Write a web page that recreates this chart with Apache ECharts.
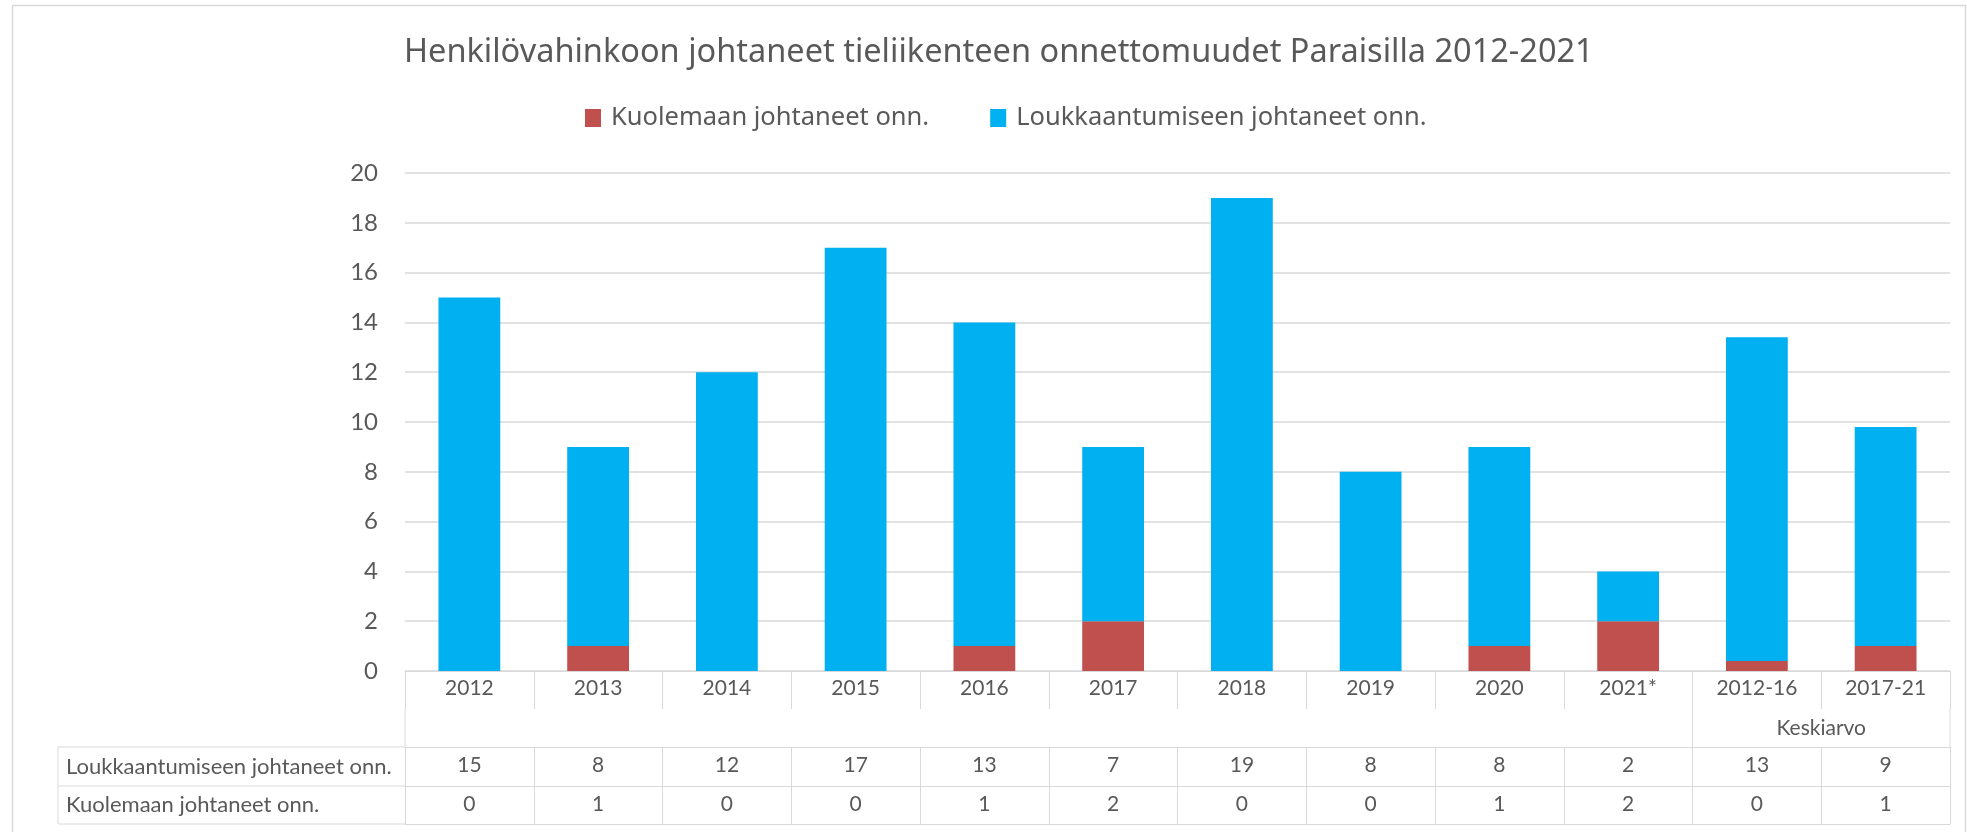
<!DOCTYPE html>
<html><head><meta charset="utf-8">
<script src="https://cdn.jsdelivr.net/npm/echarts@6/dist/echarts.min.js"></script>
<style>html,body{margin:0;padding:0;background:#fff}#c{width:1967px;height:832px}</style>
</head><body><div id="c"></div>
<script>
const chartTitle = 'Henkilövahinkoon johtaneet tieliikenteen onnettomuudet Paraisilla 2012-2021';
const categories = ['2012','2013','2014','2015','2016','2017','2018','2019','2020','2021*','2012-16','2017-21'];
const killed = [0, 1, 0, 0, 1, 2, 0, 0, 1, 2, 0.4, 1];
const injured = [15, 8, 12, 17, 13, 7, 19, 8, 8, 2, 13, 8.8];
const seriesNames = ['Kuolemaan johtaneet onn.', 'Loukkaantumiseen johtaneet onn.'];
const groupLabel = 'Keskiarvo';
const groupStartIndex = 10;

const FONT = 'Lato';
const FONT2 = 'Noto Sans';
const TXT = '#595959';
const LINE = '#D9D9D9';
const RED = '#C0504D';
const BLUE = '#00B0F0';

const chart = echarts.init(document.getElementById('c'), null, {renderer: 'canvas'});

// table row geometry (relative to the category axis line)
const catRowH = 38, groupRowH = 76, rowH = 39;

function tableAxis(data, offset, showLabel, tickLen) {
  return {
    type: 'category', data: data, gridIndex: 0, position: 'bottom', offset: offset,
    axisLine: {show: true, lineStyle: {color: LINE, width: 1}},
    axisTick: {show: tickLen > 0, length: tickLen, lineStyle: {color: LINE, width: 1}},
    axisLabel: {show: showLabel, color: TXT, fontFamily: FONT, fontSize: 21, margin: 8},
    splitLine: {show: false}
  };
}

const option = {
  backgroundColor: '#fff',
  animation: false,
  title: {
    text: chartTitle, left: 399, top: 31,
    textStyle: {fontFamily: FONT2, fontSize: 32.5, fontWeight: 'normal', color: TXT}
  },
  legend: {
    data: seriesNames, top: 100, left: 580, itemWidth: 16, itemHeight: 18, itemGap: 61,
    icon: 'rect',
    textStyle: {fontFamily: FONT2, fontSize: 25.5, color: TXT, padding: [0, 0, 0, 5]}
  },
  grid: {left: 405, right: 17, top: 173, bottom: 161, containLabel: false},
  xAxis: [
    {
      type: 'category', data: categories,
      axisLine: {show: true, lineStyle: {color: LINE, width: 1}},
      axisTick: {show: true, length: catRowH, lineStyle: {color: LINE, width: 1}},
      axisLabel: {color: TXT, fontFamily: FONT, fontSize: 21, margin: 7, interval: 0},
      splitLine: {show: false}
    },
    tableAxis(injured.map(v => String(Math.round(v))), groupRowH, true, rowH),
    tableAxis(killed.map(v => String(Math.round(v))), groupRowH + rowH, true, rowH - 1),
    tableAxis(categories.map(() => ''), groupRowH + 2 * rowH - 1, false, 0)
  ],
  yAxis: {
    type: 'value', min: 0, max: 20, interval: 2,
    axisLine: {show: false}, axisTick: {show: false},
    axisLabel: {color: TXT, fontFamily: FONT, fontSize: 24, margin: 27},
    splitLine: {lineStyle: {color: LINE, width: 1.5}}
  },
  series: [
    {name: seriesNames[0], type: 'bar', stack: 'a', data: killed, barWidth: '48%',
     itemStyle: {color: RED}},
    {name: seriesNames[1], type: 'bar', stack: 'a', data: injured, barWidth: '48%',
     itemStyle: {color: BLUE}}
  ]
};
chart.setOption(option);

// table lines and header texts derived from the axis geometry
const x0 = chart.convertToPixel({xAxisIndex: 0}, 0);
const x1 = chart.convertToPixel({xAxisIndex: 0}, 1);
const band = x1 - x0;
const left = x0 - band / 2;
const right = left + band * categories.length;
const yAxisLine = chart.convertToPixel({yAxisIndex: 0}, 0);
const yGroupTop = yAxisLine + catRowH;
const yRow1 = yAxisLine + groupRowH;
const yRow2 = yRow1 + rowH;
const yRow3 = yRow2 + rowH - 1;
const headLeft = 58;
const gx = left + band * groupStartIndex;
const lineStyle = {stroke: LINE, lineWidth: 1};
function L(xa, ya, xb, yb) {
  return {type: 'line', silent: true, shape: {x1: xa, y1: ya, x2: xb, y2: yb}, style: lineStyle};
}
const graphics = [
  {type: 'rect', silent: true, shape: {x: 12.5, y: 5.5, width: 1953, height: 860},
   style: {fill: 'none', stroke: LINE, lineWidth: 1.5}},
  L(headLeft, yRow1, left, yRow1),
  L(headLeft, yRow2, left, yRow2),
  L(headLeft, yRow3, left, yRow3),
  L(headLeft, yRow1, headLeft, yRow3),
  L(left, yGroupTop, left, yRow1),
  L(gx, yGroupTop, gx, yRow1),
  L(right, yGroupTop, right, yRow1),
  {type: 'text', silent: true, style: {text: seriesNames[1], x: 66, y: (yRow1 + yRow2) / 2,
    verticalAlign: 'middle', fontFamily: FONT, fontSize: 22, fill: TXT}},
  {type: 'text', silent: true, style: {text: seriesNames[0], x: 66, y: (yRow2 + yRow3) / 2,
    verticalAlign: 'middle', fontFamily: FONT, fontSize: 22, fill: TXT}},
  {type: 'text', silent: true, style: {text: groupLabel, x: gx + band, y: (yGroupTop + yRow1) / 2,
    align: 'center', verticalAlign: 'middle', fontFamily: FONT, fontSize: 21, fill: TXT}}
];
chart.setOption({graphic: graphics});
</script>
</body></html>
